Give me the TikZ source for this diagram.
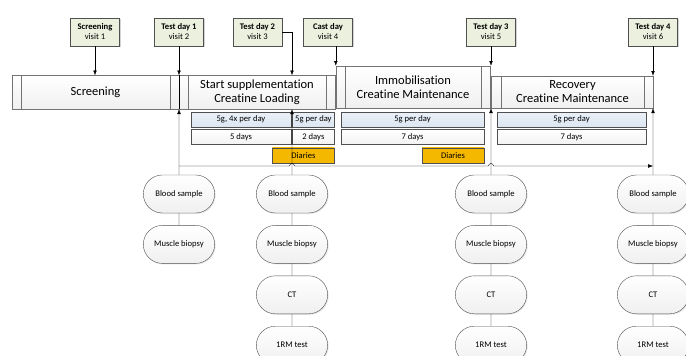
\documentclass[tikz,border=0pt]{standalone}
\usepackage{fontspec}
\setmainfont{Carlito}[Ligatures=NoCommon]
\usetikzlibrary{positioning, arrows.meta, calc, shapes.misc, shadows}

\definecolor{visitfill}{HTML}{EBF1DE}
\definecolor{dosefill}{HTML}{DCE6F2}
\definecolor{diaryfill}{HTML}{F5B800}
\definecolor{edge}{HTML}{505050}

\begin{document}
\begin{tikzpicture}[x=1pt, y=-1pt, >=Latex, node distance=12pt,
  visit/.style={draw=edge, fill=visitfill, minimum width=49pt, minimum height=28pt, align=center,
    inner sep=1pt, font=\fontsize{8.6}{10}\selectfont,
    drop shadow={shadow xshift=1.2pt, shadow yshift=-1.2pt, opacity=0.35}},
  phase/.style={draw=edge!80, top color=white, bottom color=gray!12, minimum height=33.5pt,
    inner sep=0pt, align=center, font=\fontsize{12.5}{14}\selectfont},
  dose/.style={draw=edge, top color=dosefill!60, bottom color=dosefill, minimum height=15pt,
    inner sep=0pt, font=\fontsize{8.6}{9}\selectfont},
  span/.style={dose, top color=white, bottom color=gray!10},
  diary/.style={dose, top color=diaryfill, bottom color=diaryfill},
  exam/.style={draw=edge, rounded rectangle, minimum width=78pt, minimum height=38pt,
    top color=white, bottom color=gray!12, font=\fontsize{8.6}{9}\selectfont,
    drop shadow={shadow xshift=1pt, shadow yshift=-1pt, opacity=0.2}}]
  \useasboundingbox (0,0) rectangle (686,356);
  \clip (0,0) rectangle (686,356);

  % visits
  \node[visit] (v1) at (95,32) {\textbf{Screening}\\visit 1};
  \node[visit] (v2) at (179,32) {\textbf{Test day 1}\\visit 2};
  \node[visit] (v3) at (257.5,32) {\textbf{Test day 2}\\visit 3};
  \node[visit] (v4) at (328,32) {\textbf{Cast day}\\visit 4};
  \node[visit] (v5) at (491,32) {\textbf{Test day 3}\\visit 5};
  \node[visit] (v6) at (653,32) {\textbf{Test day 4}\\visit 6};

  % phases
  \node[phase, minimum width=323pt] (barA) at (173.5,92.25) {};
  \node[phase, minimum width=149pt] (scr) at (95.5,92.25) {Screening};
  \node[phase, minimum width=138pt] (load) at (257,92.25) {Start supplementation\\Creatine Loading};
  \node[phase, minimum width=154pt, minimum height=42pt] (imm) at (413,87) {};
  \node[phase, minimum width=136pt, minimum height=42pt] (immin) at (413,87) {Immobilisation\\Creatine Maintenance};
  \node[phase, minimum width=162pt, minimum height=32pt] (rec) at (572,92) {};
  \node[phase, minimum width=143pt, minimum height=32pt] (recin) at (572.5,92) {Recovery\\Creatine Maintenance};

  % supplementation
  \node[dose, minimum width=100pt] (d1) at (241,119.5) {5g, 4x per day};
  \node[dose, minimum width=42pt, right=1pt of d1] (d2) {5g per day};
  \node[span, minimum width=100pt, below=2pt of d1] (t1) {5 days};
  \node[span, minimum width=42pt, below=2pt of d2] (t2) {2 days};
  \node[diary, minimum width=62pt, anchor=north east] (di1) at ($(t2.south east)+(0,3)$) {Diaries};
  \node[dose, minimum width=143pt] (d3) at (412.5,119.5) {5g per day};
  \node[span, minimum width=143pt, below=2pt of d3] (t3) {7 days};
  \node[diary, minimum width=62pt, anchor=north east] (di2) at ($(t3.south east)+(0,3)$) {Diaries};
  \node[dose, minimum width=149pt] (d4) at (571.5,119.5) {5g per day};
  \node[span, minimum width=149pt, below=2pt of d4] (t4) {7 days};

  % measurements
  \node[exam] (blooda) at (179,194) {Blood sample};
  \node[exam, below=of blooda] (musclea) {Muscle biopsy};
  \node[exam] (bloodb) at (292,194) {Blood sample};
  \node[exam, below=of bloodb] (muscleb) {Muscle biopsy};
  \node[exam, below=of muscleb] (ctb) {CT};
  \node[exam, below=of ctb] (rmb) {1RM test};
  \node[exam] (bloodc) at (491,194) {Blood sample};
  \node[exam, below=of bloodc] (musclec) {Muscle biopsy};
  \node[exam, below=of musclec] (ctc) {CT};
  \node[exam, below=of ctc] (rmc) {1RM test};
  \node[exam] (bloodd) at (653,194) {Blood sample};
  \node[exam, below=of bloodd] (muscled) {Muscle biopsy};
  \node[exam, below=of muscled] (ctd) {CT};
  \node[exam, below=of ctd] (rmd) {1RM test};

  \coordinate (hl) at (179,166);

  \draw[->] (v1) -- (v1 |- barA.north);
  \draw[->] (v2) -- (v2 |- barA.north);
  \draw[->] (v3.east) -| (bloodb |- barA.north);
  \draw[->] (v4.south -| imm.west) -- (imm.north west);
  \draw[->] (v5) -- (v5 |- imm.north);
  \draw[->] (v6) -- (v6 |- rec.north);
  \draw (blooda |- barA.north) -- (blooda |- barA.south);
  \draw[->] (blooda) -- (blooda |- barA.south);
  \draw[->] (bloodb) -- (bloodb |- barA.south);
  \draw[->] (bloodc) -- (bloodc |- imm.south);
  \draw[->] (bloodd) -- (bloodd |- rec.south);
  \draw[->] (blooda |- hl) -- ($(bloodb |- hl)+(-2.5,0)$) arc[start angle=180, end angle=0, radius=2.5pt]
    -- ($(bloodc |- hl)+(-2.5,0)$) arc[start angle=180, end angle=0, radius=2.5pt]
    -- (bloodd |- hl);
  \draw (blooda) -- (musclea);
  \draw (bloodb) -- (muscleb);
  \draw (muscleb) -- (ctb);
  \draw (ctb) -- (rmb);
  \draw (bloodc) -- (musclec);
  \draw (musclec) -- (ctc);
  \draw (ctc) -- (rmc);
  \draw (bloodd) -- (muscled);
  \draw (muscled) -- (ctd);
  \draw (ctd) -- (rmd);
\end{tikzpicture}
\end{document}
